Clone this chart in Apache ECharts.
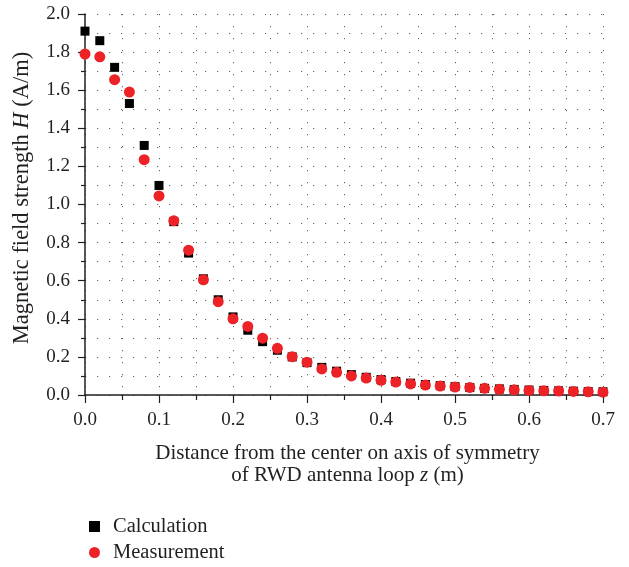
<!DOCTYPE html>
<html>
<head>
<meta charset="utf-8">
<script src="https://cdn.jsdelivr.net/npm/echarts@6/dist/echarts.min.js"></script>
<style>html,body{margin:0;padding:0;background:#fff;}#c{width:629px;height:567px;}</style>
</head>
<body>
<div id="c"></div>
<script>
const distance = [0.00,0.02,0.04,0.06,0.08,0.10,0.12,0.14,0.16,0.18,0.20,0.22,0.24,0.26,0.28,0.30,0.32,0.34,0.36,0.38,0.40,0.42,0.44,0.46,0.48,0.50,0.52,0.54,0.56,0.58,0.60,0.62,0.64,0.66,0.68,0.70];
const calculation = [1.91,1.86,1.72,1.53,1.31,1.10,0.91,0.745,0.61,0.50,0.41,0.34,0.28,0.235,0.20,0.17,0.145,0.125,0.107,0.093,0.081,0.071,0.062,0.055,0.049,0.044,0.039,0.035,0.032,0.029,0.026,0.024,0.022,0.020,0.018,0.017];
const measurement = [1.79,1.775,1.655,1.59,1.235,1.045,0.915,0.76,0.605,0.49,0.40,0.36,0.298,0.245,0.201,0.172,0.137,0.119,0.10,0.089,0.077,0.068,0.058,0.052,0.047,0.042,0.040,0.035,0.030,0.027,0.024,0.022,0.021,0.019,0.017,0.015];
const seriesNames = ['Calculation','Measurement'];

const FONT = "'Liberation Serif', 'Times New Roman', serif";
const TXT = '#231f20';
const dots = {color:'#666', width:1, type:[1.2,10.8]};
const legendText = {fontFamily:FONT, fontSize:20.5, color:TXT, padding:[0,0,0,8]};

const chart = echarts.init(document.getElementById('c'), null, {renderer:'canvas'});
chart.setOption({
  animation:false,
  backgroundColor:'#fff',
  grid:{left:85, right:26, top:14, bottom:172, containLabel:false},
  legend:[
    {orient:'vertical', left:84, top:511, itemWidth:11, itemHeight:11, textStyle:legendText,
     data:[{name:seriesNames[0], icon:'rect'}]},
    {orient:'vertical', left:84, top:537, itemWidth:11, itemHeight:11, textStyle:legendText,
     data:[{name:seriesNames[1], icon:'circle'}]}
  ],
  xAxis:{
    type:'value', min:0, max:0.7, interval:0.1,
    name:'Distance from the center on axis of symmetry\nof RWD antenna loop {i|z} (m)',
    nameLocation:'middle', nameGap:47,
    nameTextStyle:{fontFamily:FONT, fontSize:21, color:TXT, lineHeight:22, padding:[0,0,0,7],
      rich:{i:{fontFamily:FONT, fontSize:21, fontStyle:'italic', color:TXT, lineHeight:22}}},
    axisLine:{lineStyle:{color:TXT, width:1.5}},
    axisTick:{show:true, length:8, inside:false, lineStyle:{color:TXT, width:1.2}},
    minorTick:{show:true, splitNumber:2, length:5, lineStyle:{color:TXT, width:1.2}},
    axisLabel:{fontFamily:FONT, fontSize:19, color:TXT, margin:16, formatter:v=>v.toFixed(1)},
    splitLine:{show:true, lineStyle:dots},
    minorSplitLine:{show:true, lineStyle:dots}
  },
  yAxis:{
    type:'value', min:0, max:2.0, interval:0.2,
    name:'Magnetic field strength {i|H} (A/m)',
    nameLocation:'middle', nameGap:51,
    nameTextStyle:{fontFamily:FONT, fontSize:22.5, color:TXT, padding:[0,0,0,13],
      rich:{i:{fontFamily:FONT, fontSize:22.5, fontStyle:'italic', color:TXT}}},
    axisLine:{show:true, lineStyle:{color:TXT, width:1.5}},
    axisTick:{show:true, length:7, lineStyle:{color:TXT, width:1.2}},
    minorTick:{show:true, splitNumber:2, length:4, lineStyle:{color:TXT, width:1.2}},
    axisLabel:{fontFamily:FONT, fontSize:19, color:TXT, margin:15, formatter:v=>v.toFixed(1)},
    splitLine:{show:true, lineStyle:dots},
    minorSplitLine:{show:true, lineStyle:dots}
  },
  series:[
    {name:seriesNames[0], type:'scatter', symbol:'rect', symbolSize:9,
     itemStyle:{color:'#000', opacity:1}, data:distance.map((d,i)=>[d,calculation[i]]), z:2},
    {name:seriesNames[1], type:'scatter', symbol:'circle', symbolSize:11,
     itemStyle:{color:'#ec2227', opacity:1}, data:distance.map((d,i)=>[d,measurement[i]]), z:3}
  ]
});
</script>
</body>
</html>
